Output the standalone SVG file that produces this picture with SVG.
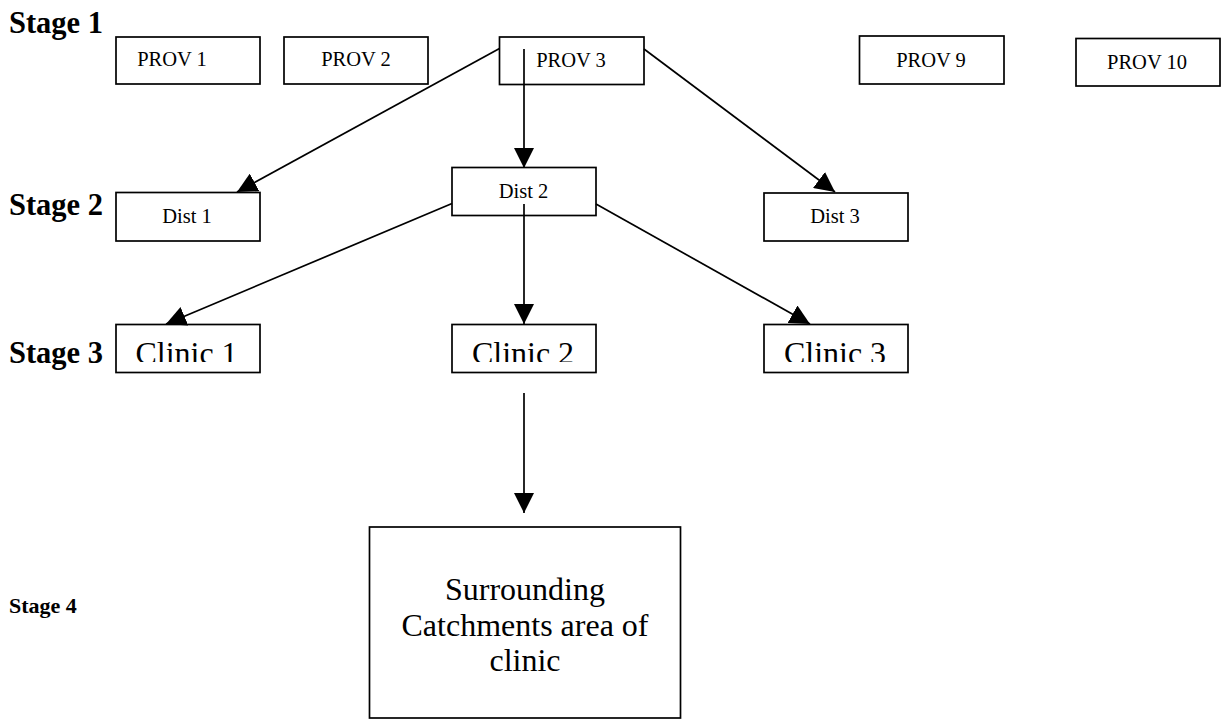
<svg xmlns="http://www.w3.org/2000/svg" width="1222" height="719" viewBox="0 0 1222 719">
<style>
.box{fill:#fff;stroke:#000;stroke-width:1.7}
.t{font-family:"Liberation Serif","Times New Roman",serif;font-size:20.5px;fill:#000;text-anchor:middle}
.big{font-family:"Liberation Serif","Times New Roman",serif;font-size:32px;fill:#000;text-anchor:middle}
.stage{font-family:"Liberation Serif","Times New Roman",serif;font-weight:bold;font-size:30.5px;fill:#000}
.conn line{stroke:#000;stroke-width:1.7;marker-end:url(#ah)}
</style>
<defs>
<marker id="ah" markerUnits="userSpaceOnUse" markerWidth="20" markerHeight="20" refX="20" refY="10" orient="auto" viewBox="0 0 20 20">
<path d="M0,0 L20,10 L0,20 z" fill="#000"/>
</marker>
<clipPath id="c1"><rect x="116" y="324" width="144" height="38"/></clipPath>
<clipPath id="c2"><rect x="452" y="324" width="144" height="38"/></clipPath>
<clipPath id="c3"><rect x="764" y="324" width="144" height="38"/></clipPath>
</defs>
<rect width="1222" height="719" fill="#fff"/>
<g id="stages">
<text class="stage" x="9" y="33">Stage 1</text>
<text class="stage" x="9" y="215">Stage 2</text>
<text class="stage" x="9" y="363">Stage 3</text>
<text class="stage" x="9" y="613" style="font-size:22px">Stage 4</text>
</g>
<g id="prov1"><rect class="box" x="116" y="37" width="144" height="47"/><text class="t" x="172" y="66">PROV 1</text></g>
<g id="prov2"><rect class="box" x="284" y="37" width="144" height="47"/><text class="t" x="356" y="66">PROV 2</text></g>
<g id="prov3"><rect class="box" x="499.5" y="37" width="144.5" height="47.5"/><text class="t" x="571" y="66.5">PROV 3</text></g>
<g id="prov9"><rect class="box" x="859.5" y="36" width="144.5" height="48"/><text class="t" x="931" y="66.5">PROV 9</text></g>
<g id="prov10"><rect class="box" x="1076" y="38.5" width="144" height="47.5"/><text class="t" x="1147" y="68.5">PROV 10</text></g>
<g id="dist1"><rect class="box" x="116" y="192.5" width="144" height="48.5"/><text class="t" x="187" y="223">Dist 1</text></g>
<g id="dist2"><rect class="box" x="452" y="167.5" width="144" height="48"/><text class="t" x="523.5" y="198">Dist 2</text></g>
<g id="dist3"><rect class="box" x="764" y="193" width="144" height="48"/><text class="t" x="835" y="223">Dist 3</text></g>
<g id="clinic1"><rect class="box" x="116" y="324.5" width="144" height="48"/><text class="big" x="186.5" y="364" clip-path="url(#c1)">Clinic 1</text></g>
<g id="clinic2"><rect class="box" x="452" y="324.5" width="144" height="48"/><text class="big" x="523" y="364" clip-path="url(#c2)">Clinic 2</text></g>
<g id="clinic3"><rect class="box" x="764" y="324.5" width="144" height="48"/><text class="big" x="835" y="364" clip-path="url(#c3)">Clinic 3</text></g>
<g id="catchment"><rect class="box" x="369.5" y="527" width="311" height="191"/>
<text class="big" x="525" y="600">Surrounding</text>
<text class="big" x="525" y="636">Catchments area of</text>
<text class="big" x="525" y="671">clinic</text></g>
<g id="connectors" class="conn">
<line x1="499.5" y1="48.5" x2="237" y2="192"/>
<line x1="524" y1="49" x2="524" y2="168"/>
<line x1="644" y1="49" x2="835" y2="192"/>
<line x1="452" y1="203.5" x2="166" y2="324"/>
<line x1="524" y1="204" x2="524" y2="324"/>
<line x1="596" y1="204" x2="810" y2="324"/>
<line x1="524" y1="393" x2="524" y2="513"/>
</g>
</svg>
